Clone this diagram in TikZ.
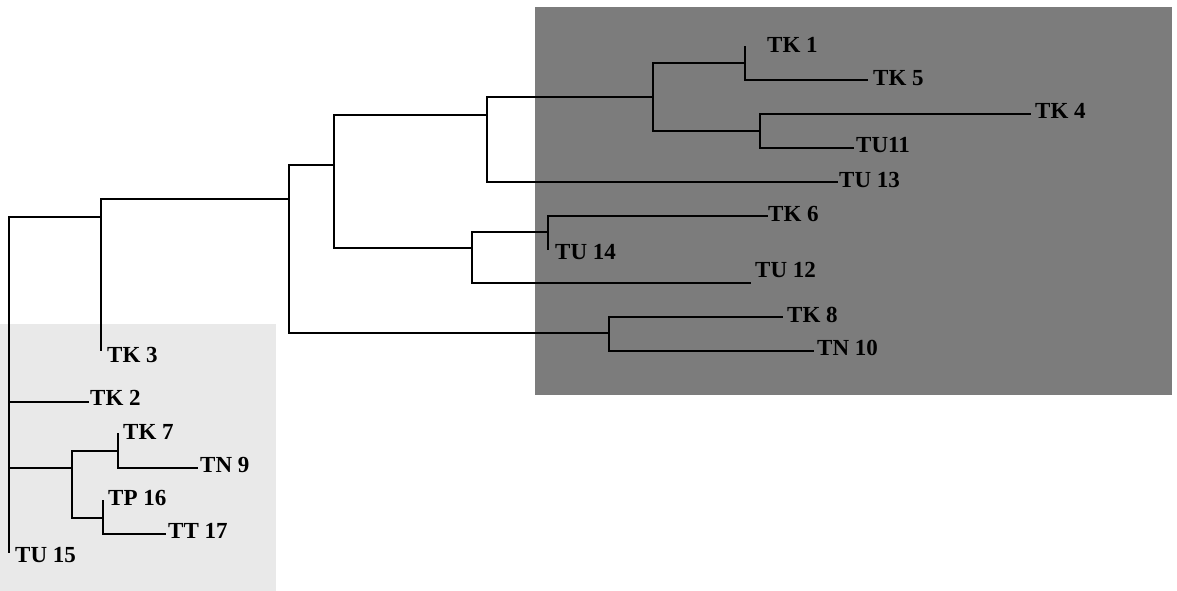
\documentclass[tikz,border=0pt]{standalone}
\usepackage{fontspec}
\setmainfont{Liberation Serif}
\definecolor{darkbg}{RGB}{124,124,124}
\definecolor{lightbg}{RGB}{233,233,233}
\tikzset{
  branch/.style={line width=2.6pt, line join=miter, line cap=rect},
  lab/.style={anchor=west, inner sep=0pt, text height=15.2pt, text depth=0pt,
    font=\fontsize{23}{23}\selectfont\bfseries}
}
\begin{document}
\begin{tikzpicture}[x=1pt,y=-1pt]
\useasboundingbox (0,0) rectangle (1177,591);
% backgrounds
\fill[darkbg] (535,7) rectangle (1172,395);
\fill[lightbg] (0,324) rectangle (276,591);
% internal junctions
\coordinate (R) at (9,217);
\coordinate (A) at (101,217);
\coordinate (B) at (289,199);
\coordinate (C) at (334,165);
\coordinate (D) at (487,115);
\coordinate (E) at (653,97);
\coordinate (F) at (745,63);
\coordinate (G) at (760,131);
\coordinate (H) at (472,248);
\coordinate (I) at (548,232);
\coordinate (J) at (609,333);
\coordinate (K) at (72,468);
\coordinate (L) at (118,451);
\coordinate (M) at (103,518);
% leaf ends
\coordinate (tk1) at (745,47);
\coordinate (tk5) at (867,80);
\coordinate (tk4) at (1030,114);
\coordinate (tu11) at (853,148);
\coordinate (tu13) at (837,182);
\coordinate (tk6) at (767,216);
\coordinate (tu14) at (548,249);
\coordinate (tu12) at (750,283);
\coordinate (tk8) at (782,317);
\coordinate (tn10) at (813,351);
\coordinate (tk3) at (101,350);
\coordinate (tk2) at (88,402);
\coordinate (tk7) at (118,434);
\coordinate (tn9) at (197,468);
\coordinate (tp16) at (103,501);
\coordinate (tt17) at (165,534);
\coordinate (tu15) at (9,552);
% branches
\draw[branch] (R) |- (A);
\draw[branch] (R) |- (tk2);
\draw[branch] (R) |- (K);
\draw[branch] (R) -- (tu15);
\draw[branch] (A) -- (tk3);
\draw[branch] (A) |- (B);
\draw[branch] (B) |- (C);
\draw[branch] (B) |- (J);
\draw[branch] (C) |- (D);
\draw[branch] (C) |- (H);
\draw[branch] (D) |- (E);
\draw[branch] (D) |- (tu13);
\draw[branch] (E) |- (F);
\draw[branch] (E) |- (G);
\draw[branch] (F) -- (tk1);
\draw[branch] (F) |- (tk5);
\draw[branch] (G) |- (tk4);
\draw[branch] (G) |- (tu11);
\draw[branch] (H) |- (I);
\draw[branch] (H) |- (tu12);
\draw[branch] (I) |- (tk6);
\draw[branch] (I) -- (tu14);
\draw[branch] (J) |- (tk8);
\draw[branch] (J) |- (tn10);
\draw[branch] (K) |- (L);
\draw[branch] (K) |- (M);
\draw[branch] (L) -- (tk7);
\draw[branch] (L) |- (tn9);
\draw[branch] (M) -- (tp16);
\draw[branch] (M) |- (tt17);
% labels
\node[lab] (ltk1) at (767,45) {TK 1};
\node[lab] (ltk5) at (873,78) {TK 5};
\node[lab] (ltk4) at (1035,111) {TK 4};
\node[lab] (ltu11) at (856,145) {TU11};
\node[lab] (ltu13) at (839,180) {TU 13};
\node[lab] (ltk6) at (768,214) {TK 6};
\node[lab] (ltu14) at (555,252) {TU 14};
\node[lab] (ltu12) at (755,270) {TU 12};
\node[lab] (ltk8) at (787,315) {TK 8};
\node[lab] (ltn10) at (817,348) {TN 10};
\node[lab] (ltk3) at (107,355) {TK 3};
\node[lab] (ltk2) at (90,398) {TK 2};
\node[lab] (ltk7) at (123,432) {TK 7};
\node[lab] (ltn9) at (200,465) {TN 9};
\node[lab] (ltp16) at (108,498) {TP 16};
\node[lab] (ltt17) at (168,531) {TT 17};
\node[lab] (ltu15) at (15,555) {TU 15};
\end{tikzpicture}
\end{document}
